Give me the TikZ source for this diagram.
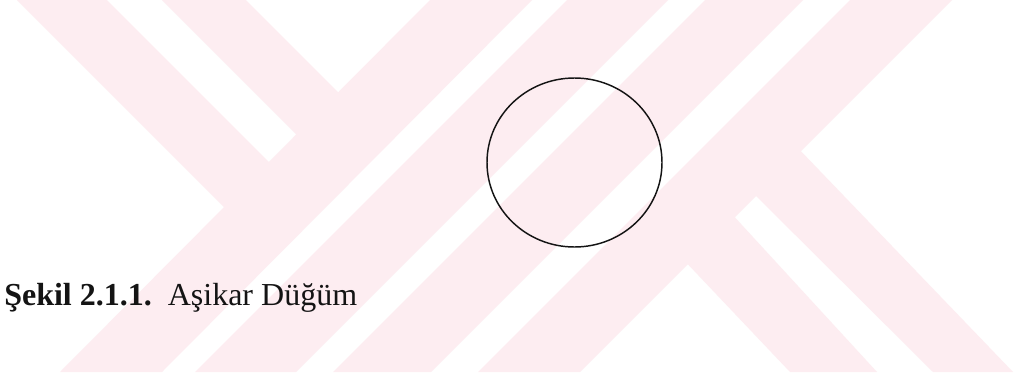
\documentclass[tikz,border=0pt]{standalone}
\usepackage{fontspec}
\setmainfont{Liberation Serif}
\usetikzlibrary{shapes.geometric}
\definecolor{markpink}{RGB}{253,237,241}
\definecolor{inkblack}{RGB}{20,20,20}

\begin{document}
\begin{tikzpicture}[x=0.75pt, y=-0.75pt,
  band/.style={fill=markpink, draw=none},
  knot/.style={ellipse, draw=inkblack, line width=1.1pt, inner sep=0pt,
    minimum width=131.25pt, minimum height=126.75pt}]

% Page
\fill[white] (0,0) rectangle (1025,372);
\useasboundingbox (0,0) rectangle (1025,372);

% Watermark, left chevron
\fill[band] (17,0) -- (107,0) -- (280,173) -- (237,220) -- cycle;
\fill[band] (162,0) -- (246,0) -- (345,99) -- (302,140) -- cycle;
\fill[band] (430,0) -- (532,0) -- (162,372) -- (60,372) -- cycle;
\fill[band] (567,0) -- (668,0) -- (296,372) -- (195,372) -- cycle;

% Watermark, right chevron
\fill[band] (705,0) -- (803,0) -- (431,372) -- (333,372) -- cycle;
\fill[band] (850,0) -- (952,0) -- (580,372) -- (478,372) -- cycle;
\fill[band] (730,212) -- (877,372) -- (790,372) -- (680,256) -- cycle;
\fill[band] (795,145) -- (1013,372) -- (933,372) -- (750,190) -- cycle;

% Unknot
\node[knot] (unknot) at (574.5,162.5) {};

% Caption
\node[anchor=base west, inner sep=0pt, text=inkblack,
  font=\fontsize{24}{28}\selectfont]
  (caption) at (4,305) {\textbf{Şekil 2.1.1.}\hspace{0.5em}Aşikar Düğüm};

\end{tikzpicture}
\end{document}
